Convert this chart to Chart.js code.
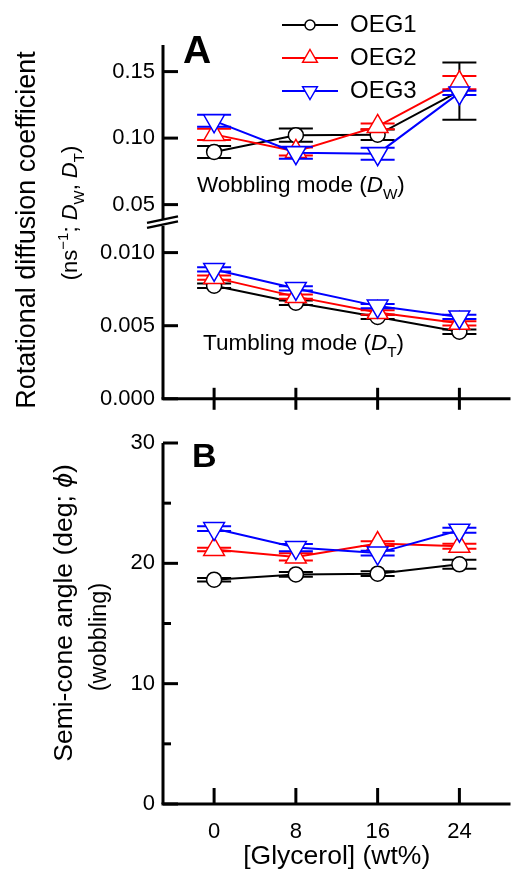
<!DOCTYPE html>
<html>
<head>
<meta charset="utf-8">
<script src="https://cdn.jsdelivr.net/npm/chart.js@4.4.0/dist/chart.umd.min.js"></script>
<style>
  html, body { margin: 0; padding: 0; background: #fff; }
  #wrap { position: relative; width: 524px; height: 874px; }
  #wrap canvas { position: absolute; left: 0; }
  #chartA { top: 0; }
  #chartB { top: 420px; }
</style>
</head>
<body>
<div id="wrap">
  <canvas id="chartA" width="524" height="420"></canvas>
  <canvas id="chartB" width="524" height="454"></canvas>
</div>
<script>
// x values: glycerol content (wt%)
const glycerol = [0, 8, 16, 24];
const seriesNames = ['OEG1', 'OEG2', 'OEG3'];
const seriesColors = ['#000000', '#ff0000', '#0000ff'];

// wobbling mode, D_W (ns^-1)
const wobbleOEG1 = [0.0896, 0.1022, 0.1025, 0.1353];
const wobbleOEG1Err = [0.0045, 0.0050, 0.0040, 0.0215];
const wobbleOEG2 = [0.1028, 0.0900, 0.1088, 0.1417];
const wobbleOEG2Err = [0.0043, 0.0030, 0.0021, 0.0050];
const wobbleOEG3 = [0.1130, 0.0890, 0.0883, 0.1340];
const wobbleOEG3Err = [0.0045, 0.0045, 0.0045, 0.0016];

// tumbling mode, D_T (ns^-1)
const tumbleOEG1 = [0.00773, 0.00657, 0.00560, 0.00459];
const tumbleOEG1Err = [0.00015, 0.00015, 0.00015, 0.00015];
const tumbleOEG2 = [0.00829, 0.00699, 0.00590, 0.00516];
const tumbleOEG2Err = [0.00015, 0.00015, 0.00015, 0.00015];
const tumbleOEG3 = [0.00885, 0.00755, 0.00634, 0.00560];
const tumbleOEG3Err = [0.00015, 0.00015, 0.00015, 0.00015];

// semi-cone angle (deg)
const coneOEG1 = [18.64, 19.08, 19.14, 19.92];
const coneOEG1Err = [0.15, 0.2, 0.2, 0.37];
const coneOEG2 = [21.15, 20.53, 21.64, 21.42];
const coneOEG2Err = [0.15, 0.3, 0.2, 0.2];
const coneOEG3 = [22.89, 21.31, 20.85, 22.75];
const coneOEG3Err = [0.2, 0.3, 0.2, 0.2];

const FAMILY = "'Liberation Sans', Arial, sans-serif";

const markers = [
  { style: 'circle', radius: 7.5, rotation: 0 },
  { style: 'triangle', radius: 12, rotation: 0 },
  { style: 'triangle', radius: 12, rotation: 180 }
];

function makeSet(i, values, errs, yAxisID) {
  return {
    label: seriesNames[i],
    data: glycerol.map((g, k) => ({ x: g, y: values[k] })),
    errors: errs,
    yAxisID: yAxisID,
    borderColor: seriesColors[i],
    borderWidth: 2,
    pointBackgroundColor: '#ffffff',
    pointBorderColor: seriesColors[i],
    pointBorderWidth: 1.5,
    pointStyle: markers[i].style,
    pointRadius: markers[i].radius,
    pointRotation: markers[i].rotation,
    tension: 0,
    order: 2 - i
  };
}

// text with italic / sub / superscript pieces, optionally rotated
function drawRich(ctx, x, y, size, parts, opts) {
  opts = opts || {};
  const fontFor = p => (p.i ? 'italic ' : '') + (p.b ? 'bold ' : '') +
    (p.s ? size * 0.68 : size) + 'px ' + FAMILY;
  ctx.save();
  ctx.translate(x, y);
  if (opts.rotate) ctx.rotate(-Math.PI / 2);
  ctx.fillStyle = '#000';
  ctx.textBaseline = opts.baseline || 'alphabetic';
  ctx.textAlign = 'left';
  let w = 0;
  parts.forEach(p => { ctx.font = fontFor(p); w += ctx.measureText(p.t).width; });
  let cx = opts.align === 'left' ? 0 : -w / 2;
  parts.forEach(p => {
    ctx.font = fontFor(p);
    const dy = p.s === 'sub' ? size * 0.3 : p.s === 'sup' ? -size * 0.42 : 0;
    ctx.fillText(p.t, cx, dy);
    cx += ctx.measureText(p.t).width;
  });
  ctx.restore();
}

function drawMarker(ctx, i, x, y, r) {
  ctx.save();
  ctx.strokeStyle = seriesColors[i];
  ctx.fillStyle = '#fff';
  ctx.lineWidth = 1.5;
  ctx.beginPath();
  if (i === 0) {
    ctx.arc(x, y, r, 0, Math.PI * 2);
  } else {
    const s = i === 1 ? 1 : -1;
    ctx.moveTo(x, y - s * r);
    ctx.lineTo(x + 0.866 * r, y + s * r / 2);
    ctx.lineTo(x - 0.866 * r, y + s * r / 2);
    ctx.closePath();
  }
  ctx.fill();
  ctx.stroke();
  ctx.restore();
}

// vertical error bars with wide caps, drawn under each series
const errorBars = {
  id: 'errorBars',
  beforeDatasetDraw(chart, args) {
    const ds = chart.data.datasets[args.index];
    if (!ds.errors) return;
    const meta = args.meta;
    const yScale = chart.scales[meta.yAxisID];
    const ctx = chart.ctx;
    ctx.save();
    ctx.strokeStyle = ds.borderColor;
    ctx.lineWidth = 2;
    meta.data.forEach((pt, k) => {
      const v = ds.data[k].y, e = ds.errors[k];
      const yHi = yScale.getPixelForValue(v + e);
      const yLo = yScale.getPixelForValue(v - e);
      ctx.beginPath();
      ctx.moveTo(pt.x, yHi); ctx.lineTo(pt.x, yLo);
      ctx.moveTo(pt.x - 17, yHi); ctx.lineTo(pt.x + 17, yHi);
      ctx.moveTo(pt.x - 17, yLo); ctx.lineTo(pt.x + 17, yLo);
      ctx.stroke();
    });
    ctx.restore();
  }
};

// axis lines with inward ticks, optional axis break
const frame = {
  id: 'frame',
  beforeDatasetsDraw(chart, args, opts) {
    const ctx = chart.ctx;
    const area = chart.chartArea;
    const x0 = area.left;
    ctx.save();
    ctx.strokeStyle = '#000';
    ctx.lineWidth = 3;
    opts.yAxes.forEach(a => {
      const s = chart.scales[a.id];
      ctx.beginPath();
      ctx.moveTo(x0, s.top + (a.gapTop || 0));
      ctx.lineTo(x0, s.bottom - (a.gapBottom || 0));
      ctx.stroke();
      s.ticks.forEach(t => {
        const y = s.getPixelForValue(t.value);
        const len = t.label === '' ? 8 : 15;
        ctx.beginPath();
        ctx.moveTo(x0, y);
        ctx.lineTo(x0 + len, y);
        ctx.stroke();
      });
    });
    // x axis
    const xs = chart.scales.x;
    const yb = area.bottom;
    ctx.beginPath();
    ctx.moveTo(x0 - 1.5, yb);
    ctx.lineTo(area.right, yb);
    ctx.stroke();
    glycerol.forEach(g => {
      const px = xs.getPixelForValue(g);
      ctx.beginPath();
      ctx.moveTo(px, yb - opts.xTickUp);
      ctx.lineTo(px, yb + opts.xTickDown);
      ctx.stroke();
    });
    if (opts.breakAt) {
      const yb2 = chart.scales[opts.breakAt].bottom;
      ctx.lineWidth = 2.5;
      ctx.beginPath();
      ctx.moveTo(x0 - 16, yb2 + 1); ctx.lineTo(x0 + 15, yb2 - 5.5);
      ctx.moveTo(x0 - 16, yb2 + 6); ctx.lineTo(x0 + 15, yb2 - 0.5);
      ctx.stroke();
    }
    ctx.restore();
  }
};

const texts = {
  id: 'texts',
  afterDraw(chart, args, opts) {
    opts.draw(chart.ctx);
  }
};

function yScaleOpts(min, max, step, major, digits, extra) {
  return Object.assign({
    type: 'linear',
    position: 'left',
    min: min,
    max: max,
    grid: { display: false, drawTicks: false },
    border: { display: false },
    ticks: {
      stepSize: step,
      includeBounds: false,
      padding: 8,
      color: '#000',
      font: { family: FAMILY, size: 22 },
      callback: v => Math.abs(v / major - Math.round(v / major)) < 1e-6 ? v.toFixed(digits) : ''
    },
    afterFit: s => { s.width = 163; }
  }, extra || {});
}

const xMin = -5, xMax = 29;

// Panel A: rotational diffusion coefficients, broken y axis
new Chart(document.getElementById('chartA'), {
  type: 'line',
  data: {
    datasets: [
      makeSet(0, wobbleOEG1, wobbleOEG1Err, 'yTop'),
      makeSet(1, wobbleOEG2, wobbleOEG2Err, 'yTop'),
      makeSet(2, wobbleOEG3, wobbleOEG3Err, 'yTop'),
      makeSet(0, tumbleOEG1, tumbleOEG1Err, 'yBot'),
      makeSet(1, tumbleOEG2, tumbleOEG2Err, 'yBot'),
      makeSet(2, tumbleOEG3, tumbleOEG3Err, 'yBot')
    ]
  },
  options: {
    responsive: false,
    animation: false,
    events: [],
    layout: { padding: { top: 45, left: 0, right: 0, bottom: 15 } },
    scales: {
      x: { type: 'linear', min: xMin, max: xMax, display: false },
      // left stacks are laid out last-first, so the lower segment comes first here
      yBot: yScaleOpts(0, 0.0121, 0.0025, 0.005, 3, { stack: 'A', stackWeight: 1 }),
      yTop: yScaleOpts(0.037, 0.17, 0.025, 0.05, 2, { stack: 'A', stackWeight: 1 })
    },
    plugins: {
      legend: { display: false },
      tooltip: { enabled: false },
      frame: {
        yAxes: [{ id: 'yTop', gapBottom: 2 }, { id: 'yBot', gapTop: 4 }],
        xTickUp: 11, xTickDown: 11, breakAt: 'yTop'
      },
      texts: {
        draw(ctx) {
          drawRich(ctx, 183, 63, 39, [{ t: 'A', b: true }], { align: 'left' });
          // legend
          seriesNames.forEach((name, i) => {
            const y = 25 + i * 33;
            ctx.save();
            ctx.strokeStyle = seriesColors[i];
            ctx.lineWidth = 2;
            ctx.beginPath();
            ctx.moveTo(282, y); ctx.lineTo(338, y);
            ctx.stroke();
            ctx.restore();
            drawMarker(ctx, i, 310, y, i === 0 ? 5 : 8.5);
            drawRich(ctx, 350, y, 24, [{ t: name }], { align: 'left', baseline: 'middle' });
          });
          drawRich(ctx, 197, 192, 22.5, [
            { t: 'Wobbling mode (' }, { t: 'D', i: true }, { t: 'W', s: 'sub' }, { t: ')' }
          ], { align: 'left' });
          drawRich(ctx, 203, 350, 22.5, [
            { t: 'Tumbling mode (' }, { t: 'D', i: true }, { t: 'T', s: 'sub' }, { t: ')' }
          ], { align: 'left' });
          drawRich(ctx, 35, 230, 27, [{ t: 'Rotational diffusion coefficient' }], { rotate: true });
          drawRich(ctx, 77, 213, 22, [
            { t: '(ns' }, { t: '\u22121', s: 'sup' }, { t: '; ' },
            { t: 'D', i: true }, { t: 'W', s: 'sub' }, { t: ', ' },
            { t: 'D', i: true }, { t: 'T', s: 'sub' }, { t: ')' }
          ], { rotate: true });
        }
      }
    }
  },
  plugins: [errorBars, frame, texts]
});

// Panel B: semi-cone angle of wobbling
new Chart(document.getElementById('chartB'), {
  type: 'line',
  data: {
    datasets: [
      makeSet(0, coneOEG1, coneOEG1Err, 'y'),
      makeSet(1, coneOEG2, coneOEG2Err, 'y'),
      makeSet(2, coneOEG3, coneOEG3Err, 'y')
    ]
  },
  options: {
    responsive: false,
    animation: false,
    events: [],
    layout: { padding: { top: 23, left: 0, right: 0, bottom: 0 } },
    scales: {
      x: {
        type: 'linear',
        min: xMin,
        max: xMax,
        grid: { display: false, drawTicks: false },
        border: { display: false },
        afterBuildTicks: s => { s.ticks = glycerol.map(v => ({ value: v })); },
        ticks: {
          autoSkip: false,
          maxRotation: 0,
          padding: 14.5,
          color: '#000',
          font: { family: FAMILY, size: 22 }
        },
        title: {
          display: true,
          text: '[Glycerol] (wt%)',
          color: '#000',
          font: { family: FAMILY, size: 26.5 },
          padding: { top: 0, bottom: 1 }
        },
        afterFit: s => { s.height = 70; }
      },
      y: yScaleOpts(0, 30, 5, 10, 0)
    },
    plugins: {
      legend: { display: false },
      tooltip: { enabled: false },
      frame: { yAxes: [{ id: 'y' }], xTickUp: 16, xTickDown: 0 },
      texts: {
        draw(ctx) {
          drawRich(ctx, 192, 47, 34, [{ t: 'B', b: true }], { align: 'left' });
          drawRich(ctx, 72, 193, 26.5, [
            { t: 'Semi-cone angle (deg; ' }, { t: '\u03d5', i: true }, { t: ')' }
          ], { rotate: true });
          drawRich(ctx, 106, 217, 23.5, [{ t: '(wobbling)' }], { rotate: true });
        }
      }
    }
  },
  plugins: [errorBars, frame, texts]
});
</script>
</body>
</html>
